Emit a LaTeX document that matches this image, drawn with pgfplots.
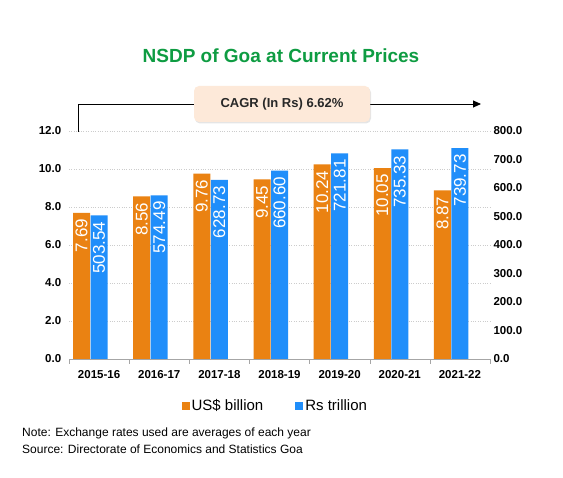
\documentclass[border=0pt]{standalone}
\usepackage{pgfplots}
\pgfplotsset{compat=1.18}
\usepackage{fontspec}
\setmainfont{Liberation Sans}
\usetikzlibrary{shadows,arrows.meta}
\definecolor{cOr}{RGB}{234,130,18}
\definecolor{cBl}{RGB}{32,142,250}
\definecolor{cTitle}{RGB}{14,156,66}
\definecolor{cBox}{RGB}{253,233,217}
\definecolor{cTxt}{RGB}{40,40,40}
\begin{document}
\begin{tikzpicture}[x=1bp,y=1bp]
\path[use as bounding box, fill=white] (0,0) rectangle (563,478);
\pgfplotsset{
  common/.style={
    at={(69bp,119bp)}, anchor=south west, scale only axis,
    width=421bp, height=228bp, xmin=-0.5, xmax=6.5, ymin=0,
    ybar, bar width=17bp,
    /pgf/number format/assume math mode=true,
    ticklabel style={font=\fontsize{11.5bp}{13bp}\selectfont\bfseries, text=black},
    nodes near coords={\pgfmathprintnumber[fixed,fixed zerofill,precision=2]{\pgfplotspointmeta}},
    nodes near coords style={rotate=90, anchor=east, text=white, inner sep=6bp,
      font=\fontsize{17bp}{17bp}\selectfont},
  }
}
\begin{axis}[common, ymax=12,
  axis x line=bottom, axis y line*=left,
  axis line style={-, draw=gray!70},
  y axis line style={draw=none},
  ytick={0,2,...,12}, major y tick style={draw=none},
  yticklabel style={/pgf/number format/.cd, fixed, fixed zerofill, precision=1},
  ymajorgrids, grid style={dotted, gray!40},
  xtick={0,...,6}, major x tick style={draw=none},
  xticklabels={2015-16,2016-17,2017-18,2018-19,2019-20,2020-21,2021-22},
  xticklabel style={yshift=-4bp},
  minor xtick={-0.5,0.5,...,6.5}, minor x tick style={draw=gray!70},
  minor tick length=5bp, tick align=outside,
  bar shift=-17.5bp]
\addplot[fill=cOr, draw=none] coordinates {(0,7.69) (1,8.56) (2,9.76) (3,9.45) (4,10.24) (5,10.05) (6,8.87)};
\end{axis}
\begin{axis}[common, ymax=800,
  axis x line=none, axis y line*=right,
  y axis line style={draw=none},
  ytick={0,100,...,800}, major y tick style={draw=none},
  yticklabel style={/pgf/number format/.cd, fixed, fixed zerofill, precision=1, 1000 sep={}},
  bar shift=0bp,
  legend style={at={(0.49,-0.206)}, anchor=center, legend columns=2, draw=none, fill=none,
    font=\fontsize{15bp}{17bp}\selectfont, inner sep=0pt,
    /tikz/every even column/.append style={column sep=30bp}},
  legend image code/.code={\fill[#1] (0bp,-4bp) rectangle (8bp,4bp);}]
\addplot[fill=cBl, draw=none, forget plot] coordinates {(0,503.54) (1,574.49) (2,628.73) (3,660.60) (4,721.81) (5,735.33) (6,739.73)};
\addlegendimage{fill=cOr, draw=none}
\addlegendentry{US\$ billion}
\addlegendimage{fill=cBl, draw=none}
\addlegendentry{Rs trillion}
\end{axis}
\node[text=cTitle, font=\fontsize{19bp}{21bp}\selectfont\bfseries] at (281,422) {NSDP of Goa at Current Prices};
\draw[line width=0.9bp, -{Triangle[length=8bp,width=7bp]}] (78,346) |- (481,374);
\node[fill=cBox, rounded corners=5bp, minimum width=176bp, minimum height=36bp,
  drop shadow={opacity=0.2, shadow xshift=1bp, shadow yshift=-1.5bp},
  text=cTxt, font=\fontsize{13bp}{15bp}\selectfont\bfseries] at (282,374) {CAGR (In Rs) 6.62\%};
\node[anchor=west, inner sep=0pt, font=\fontsize{12bp}{14bp}\selectfont] at (22,45) {Note: Exchange rates used are averages of each year};
\node[anchor=west, inner sep=0pt, font=\fontsize{12bp}{14bp}\selectfont] at (22,29) {Source: Directorate of Economics and Statistics Goa};
\end{tikzpicture}
\end{document}
